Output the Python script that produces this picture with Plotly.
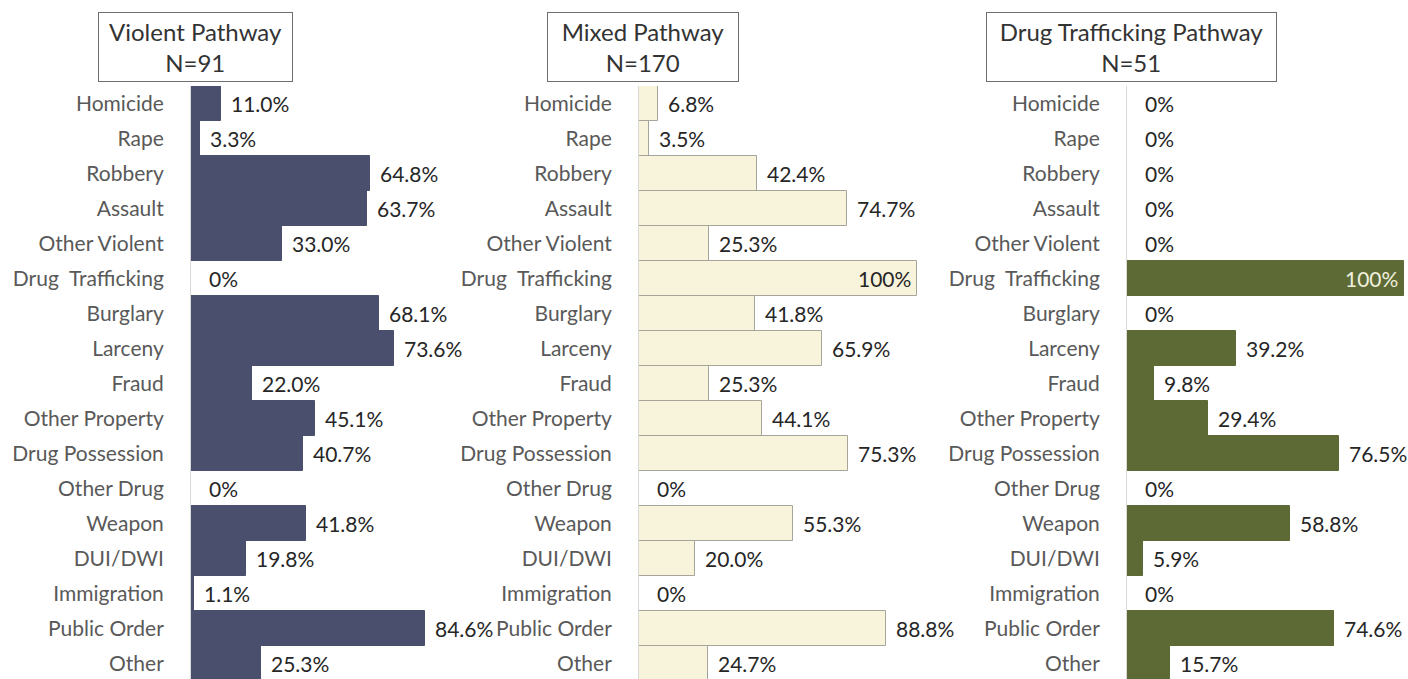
import plotly.graph_objects as go

offenses = ["Homicide", "Rape", "Robbery", "Assault", "Other Violent", "Drug  Trafficking",
            "Burglary", "Larceny", "Fraud", "Other Property", "Drug Possession",
            "Other Drug", "Weapon", "DUI/DWI", "Immigration", "Public Order", "Other"]

titles = ["Violent Pathway<br>N=91", "Mixed Pathway<br>N=170", "Drug Trafficking Pathway<br>N=51"]

violent = [11.0, 3.3, 64.8, 63.7, 33.0, 0, 68.1, 73.6, 22.0, 45.1, 40.7, 0, 41.8, 19.8, 1.1, 84.6, 25.3]
mixed = [6.8, 3.5, 42.4, 74.7, 25.3, 100, 41.8, 65.9, 25.3, 44.1, 75.3, 0, 55.3, 20.0, 0, 88.8, 24.7]
drug = [0, 0, 0, 0, 0, 100, 0, 39.2, 9.8, 29.4, 76.5, 0, 58.8, 5.9, 0, 74.6, 15.7]

series = [violent, mixed, drug]
fills = ["#4a4f6d", "#f8f4dc", "#5e6a36"]
outlines = ["#4a4f6d", "#a5a59c", "#5e6a36"]
inside_col = ["#ffffff", "#262626", "#eef0dc"]
domains = [[191/1408, 467/1408], [639/1408, 917/1408], [1127/1408, 1404/1408]]
box_w = [187, 184, 283]

FONT = "Lato, 'Open Sans', sans-serif"

fig = go.Figure()
annots = []
for i, vals in enumerate(series):
    sfx = "" if i == 0 else str(i + 1)
    fig.add_trace(go.Bar(
        x=vals, y=offenses, orientation="h",
        xaxis="x" + sfx, yaxis="y" + sfx,
        marker=dict(color=fills[i], line=dict(color=outlines[i], width=1)),
        showlegend=False, hoverinfo="x+y",
    ))
    # value labels
    for cat, v in zip(offenses, vals):
        txt = "100%" if v == 100 else ("0%" if v == 0 else f"{v:.1f}%")
        if v == 100:
            annots.append(dict(x=v, y=cat, xref="x" + sfx, yref="y" + sfx, text=txt,
                               showarrow=False, xanchor="right", xshift=-4,
                               font=dict(size=21, color=inside_col[i], family=FONT)))
        else:
            annots.append(dict(x=v, y=cat, xref="x" + sfx, yref="y" + sfx, text=txt,
                               showarrow=False, xanchor="left",
                               xshift=16 if v == 0 else 8,
                               font=dict(size=21, color="#262626", family=FONT)))
    # title box
    annots.append(dict(x=0, y=1 - 47.5/679, xref="x" + sfx, yref="paper", text=titles[i],
                       showarrow=False, xanchor="center", yanchor="middle", xshift=4,
                       width=box_w[i], height=62,
                       bordercolor="#6e6e6e", borderwidth=1, borderpad=3,
                       bgcolor="white", align="center",
                       font=dict(size=24, color="#333333", family=FONT)))

layout = dict(
    width=1408, height=679,
    margin=dict(l=0, r=0, t=0, b=0),
    paper_bgcolor="white", plot_bgcolor="white",
    bargap=0,
    font=dict(family=FONT),
    annotations=annots,
)
for i in range(3):
    sfx = "" if i == 0 else str(i + 1)
    layout["xaxis" + sfx] = dict(domain=domains[i], range=[0, 100], visible=False,
                                 anchor="y" + sfx, fixedrange=True)
    layout["yaxis" + sfx] = dict(domain=[0, 1 - 86/679], anchor="x" + sfx,
                                 type="category", categoryorder="array", categoryarray=offenses,
                                 range=[16.443, -0.5], showgrid=False, zeroline=False,
                                 showline=True, linecolor="#d9d9d9", linewidth=1,
                                 ticks="", ticklabelstandoff=22,
                                 tickfont=dict(size=21, color="#595959", family=FONT))
fig.update_layout(**layout)

# page body has a default 8px margin; drop it so the figure sits at the corner
fig.write_html("out.html", config={"displayModeBar": False},
               post_script="document.body.style.margin='0';document.body.style.overflow='hidden';")
